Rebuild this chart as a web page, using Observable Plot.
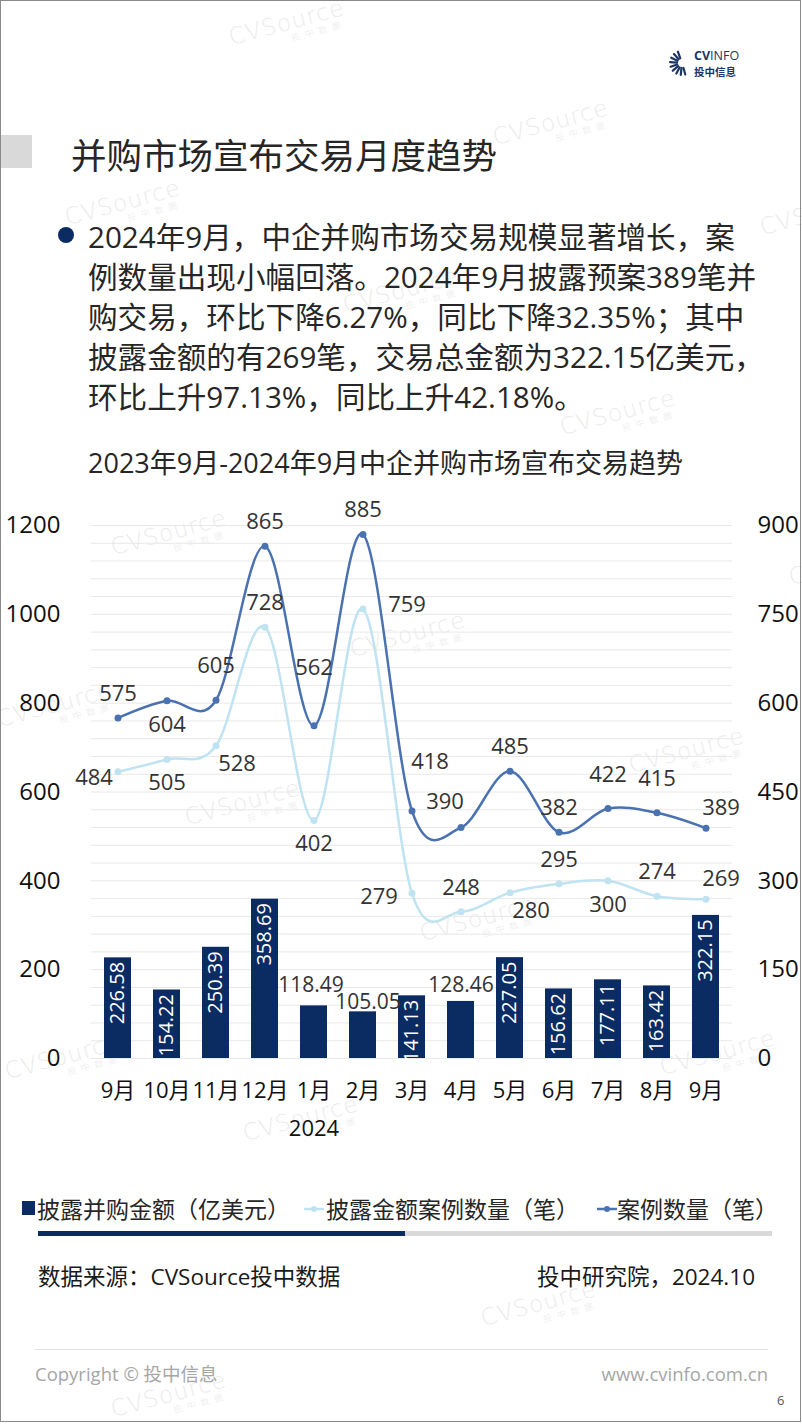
<!DOCTYPE html>
<html><head><meta charset="utf-8">
<script src="https://cdn.jsdelivr.net/npm/d3@7"></script>
<script src="https://cdn.jsdelivr.net/npm/@observablehq/plot@0.6"></script>
<style>
body{margin:0;background:#fff;}
#page{position:relative;width:802px;height:1424px;overflow:hidden;font-family:"Open Sans","Noto Sans CJK SC",sans-serif;color:#262626;background:#fff;}
.abs{position:absolute;white-space:nowrap;}
.wm{position:absolute;color:#ebebeb;transform:rotate(-15deg);transform-origin:left top;font-family:"DejaVu Sans","Open Sans",sans-serif;font-weight:300;font-size:23px;letter-spacing:1px;line-height:24px;z-index:0;white-space:nowrap;}
.wm span{display:block;font-size:9px;line-height:10px;padding-left:60px;letter-spacing:5px;font-family:"Noto Sans CJK SC";}
#frame{position:absolute;left:0;top:0;width:799px;height:1420px;border:1.5px solid #8a8a8a;z-index:10;pointer-events:none;}
.z{z-index:2;}
#chart{position:absolute;left:0;top:490px;z-index:2;}
</style></head>
<body><div id="page">
<div id="frame"></div>
<!-- logo -->
<svg class="abs z" style="left:666px;top:50px" width="28" height="28" viewBox="0 0 28 28" id="logoicon"></svg>
<div class="abs z" style="left:694px;top:49px;font-size:12.5px;line-height:13px;color:#1d3566;font-family:'Open Sans';"><b>CV</b>INFO</div>
<div class="abs z" style="left:694px;top:66px;font-size:10.5px;line-height:11px;color:#1d3566;font-weight:bold;font-family:'Noto Sans CJK SC';">投中信息</div>
<!-- title -->
<div class="abs z" style="left:0;top:135px;width:32px;height:33px;background:#d9d9d9;"></div>
<div class="abs z" style="left:71px;top:131px;font-size:35.5px;line-height:46px;color:#262626;font-family:'Noto Sans CJK SC';">并购市场宣布交易月度趋势</div>
<!-- bullet -->
<div class="abs z" style="left:58px;top:227px;width:16px;height:16px;border-radius:50%;background:#0b2b63;"></div>
<div class="abs z" id="bullet" style="left:88px;top:217px;font-size:29.6px;line-height:40px;color:#262626;"></div>
<!-- chart title -->
<div class="abs z" id="ctitle" style="left:88px;top:447px;font-size:27px;line-height:32px;color:#262626;"></div>
<div id="chart"></div>
<!-- legend -->
<div class="abs z" style="left:22px;top:1201px;width:13px;height:14px;background:#0b2b63;"></div>
<div class="abs z legend" id="lg1" style="left:37px;top:1193px;font-size:23px;line-height:32px;"></div>
<svg class="abs z" style="left:303px;top:1203px" width="22" height="12"><line x1="1" y1="6" x2="21" y2="6" stroke="#bfe3f1" stroke-width="2.5"/><circle cx="11" cy="6" r="3" fill="#bfe3f1"/></svg>
<div class="abs z legend" id="lg2" style="left:326px;top:1193px;font-size:23px;line-height:32px;"></div>
<svg class="abs z" style="left:596px;top:1203px" width="22" height="12"><line x1="1" y1="6" x2="21" y2="6" stroke="#4a72b1" stroke-width="2.5"/><circle cx="11" cy="6" r="3" fill="#4a72b1"/></svg>
<div class="abs z legend" id="lg3" style="left:617px;top:1193px;font-size:23px;line-height:32px;"></div>
<div class="abs z" style="left:38px;top:1231px;width:367px;height:5px;background:#0b2b63;"></div>
<div class="abs z" style="left:405px;top:1231px;width:367px;height:5px;background:#d9d9d9;"></div>
<!-- source -->
<div class="abs z" id="src" style="left:38px;top:1262px;font-size:22.5px;line-height:30px;color:#1a1a1a;"></div>
<div class="abs z" id="org" style="right:47px;top:1262px;font-size:22.5px;line-height:30px;color:#1a1a1a;"></div>
<!-- footer -->
<div class="abs z" style="left:35px;top:1349px;width:733px;height:1px;background:#e2e2e2;"></div>
<div class="abs z" id="copy" style="left:35px;top:1361px;font-size:18.5px;line-height:26px;color:#a6a6a6;"></div>
<div class="abs z" id="web" style="right:34px;top:1361px;font-size:18.5px;line-height:26px;color:#a6a6a6;"></div>
<div class="abs z" style="left:777px;top:1392px;font-size:13px;line-height:16px;color:#555;">6</div>
</div>
<script>
// ---------- data ----------
const periods = ["2023-09","2023-10","2023-11","2023-12","2024-01","2024-02","2024-03","2024-04","2024-05","2024-06","2024-07","2024-08","2024-09"];
const monthLabels = ["9月","10月","11月","12月","1月","2月","3月","4月","5月","6月","7月","8月","9月"];
const amounts = [226.58,154.22,250.39,358.69,118.49,105.05,141.13,128.46,227.05,156.62,177.11,163.42,322.15];
const disclosedCounts = [484,505,528,728,402,759,279,248,280,295,300,274,269];
const caseCounts = [575,604,605,865,562,885,418,390,485,382,422,415,389];
const leftTicks = [0,200,400,600,800,1000,1200];
const rightTicks = [0,150,300,450,600,750,900];
const yearLabel = "2024";
const seriesNames = ["披露并购金额（亿美元）","披露金额案例数量（笔）","案例数量（笔）"];

// ---------- texts ----------
const titleLines = [
  "2024年9月，中企并购市场交易规模显著增长，案",
  "例数量出现小幅回落。2024年9月披露预案389笔并",
  "购交易，环比下降6.27%，同比下降32.35%；其中",
  "披露金额的有269笔，交易总金额为322.15亿美元，",
  "环比上升97.13%，同比上升42.18%。"
];
document.getElementById("bullet").innerHTML = titleLines.join("<br>");
document.getElementById("ctitle").textContent = "2023年9月-2024年9月中企并购市场宣布交易趋势";
document.getElementById("lg1").textContent = seriesNames[0];
document.getElementById("lg2").textContent = seriesNames[1];
document.getElementById("lg3").textContent = seriesNames[2];
document.getElementById("src").textContent = "数据来源：CVSource投中数据";
document.getElementById("org").textContent = "投中研究院，2024.10";
document.getElementById("copy").textContent = "Copyright © 投中信息";
document.getElementById("web").textContent = "www.cvinfo.com.cn";

// logo icon (decorative)
(function(){
  const svg = document.getElementById("logoicon");
  let s = "";
  for (let i = 0; i < 9; i++) {
    const a = (110 + i * 22) * Math.PI / 180;
    const cx = 16, cy = 13;
    const r1 = 5, r2 = 12;
    s += `<line x1="${cx + r1*Math.cos(a)}" y1="${cy - r1*Math.sin(a)}" x2="${cx + r2*Math.cos(a)}" y2="${cy - r2*Math.sin(a)}" stroke="#1d3566" stroke-width="2.2" stroke-linecap="round"/>`;
  }
  svg.innerHTML = s;
})();

// watermarks (decorative)
const wmSpots = [[226,26],[490,126],[62,206],[757,216],[340,294],[557,416],[108,536],[786,566],[-6,708],[347,638],[182,806],[626,754],[417,922],[2,1060],[657,1056],[240,1122],[478,1307],[108,1398]];
const page = document.getElementById("page");
wmSpots.forEach(([l,t]) => {
  const d = document.createElement("div");
  d.className = "wm";
  d.style.left = l + "px"; d.style.top = t + "px";
  d.innerHTML = "CVSource<span>投中数据</span>";
  page.appendChild(d);
});

// ---------- chart ----------
const k = 1200 / 900; // right axis -> left axis units
const rows = periods.map((p, i) => ({
  period: p, month: monthLabels[i], amount: amounts[i],
  disclosed: disclosedCounts[i], cases: caseCounts[i]
}));
const caseLabelPos = ["top","bottom","upper","top","high","top","highright","topleft","top","top","upper","upper","topright"];
const disclosedLabelPos = ["left","bottom","bottomright","top","bottom","right","leftfar","top","bottomright","top","bottom","top","topright"];
const offsets = {top:[0,-24], upper:[0,-34], high:[0,-58], bottom:[0,24], left:[-24,6], leftfar:[-33,4], right:[44,-4], topright:[15,-20], bottomright:[21,18], topleft:[-16,-26], highright:[18,-49]};
// bar label placement: "inside" (rotated, white) or outside-end variants
const barLabelPos = ["inside","inside","inside","inside","outHigh","outNear","inside","outEnd","inside","inside","inside","inside","inside"];
const barOffsets = {outHigh:[-3,-21], outNear:[5,-10], outEnd:[0,-16]};

const darkBlue = "#4a72b1", lightBlue = "#bfe3f1", navy = "#0b2b63";
const labelFont = 22;

function lineLabels(key, posArr) {
  return Object.entries(offsets).map(([name, [dx, dy]]) =>
    Plot.text(rows, {
      filter: (d, i) => posArr[i] === name,
      x: "period", y: d => d[key] * k, text: d => String(d[key]),
      dx, dy, fill: "#333", fontSize: labelFont
    }));
}

const gridTicks = d3.range(0, 1201, 40);
const labelMap = new Map(periods.map((p, i) => [p, monthLabels[i]]));

const chart = Plot.plot({
  width: 802, height: 660,
  marginLeft: 91, marginRight: 70, marginTop: 35, marginBottom: 92,
  style: {fontFamily: "'Open Sans','Noto Sans CJK SC',sans-serif", background: "transparent", overflow: "visible"},
  x: {type: "band", domain: periods, paddingInner: 0.45, paddingOuter: 0.225},
  y: {domain: [0, 1200]},
  marks: [
    Plot.ruleY(gridTicks, {stroke: "#e8e8e8", strokeWidth: 1}),
    Plot.axisY(leftTicks, {anchor: "left", tickSize: 0, tickPadding: 31, fontSize: 24, fill: "#111", label: null, tickFormat: d => String(d)}),
    Plot.axisY(rightTicks.map(t => t * k), {anchor: "right", tickSize: 0, tickPadding: 25, fontSize: 24, fill: "#111", textAnchor: "start", label: null, tickFormat: d => String(Math.round(d / k))}),
    Plot.axisX({tickSize: 0, tickPadding: 24, fontSize: 22, fill: "#111", label: null, tickFormat: d => labelMap.get(d)}),
    Plot.barY(rows, {x: "period", y: "amount", fill: navy}),
    Plot.text([{p: periods[4], y0: 0}], {x: "p", y: "y0", text: () => yearLabel, dy: 70, fontSize: 22, fill: "#111"}),
    Plot.line(rows, {x: "period", y: d => d.disclosed * k, stroke: lightBlue, strokeWidth: 2.5, curve: "cardinal"}),
    Plot.dot(rows, {x: "period", y: d => d.disclosed * k, fill: lightBlue, r: 3.5}),
    Plot.line(rows, {x: "period", y: d => d.cases * k, stroke: darkBlue, strokeWidth: 2.5, curve: "cardinal"}),
    Plot.dot(rows, {x: "period", y: d => d.cases * k, fill: darkBlue, r: 3.5}),
    ...lineLabels("cases", caseLabelPos),
    ...lineLabels("disclosed", disclosedLabelPos),
    Plot.text(rows, {filter: (d, i) => barLabelPos[i] === "inside", x: "period", y: "amount", text: d => d.amount.toFixed(2), rotate: -90, textAnchor: "end", dy: 4, fill: "white", fontSize: 20}),
    ...Object.entries(barOffsets).map(([name, [dx, dy]]) =>
      Plot.text(rows, {filter: (d, i) => barLabelPos[i] === name, x: "period", y: "amount", text: d => d.amount.toFixed(2), dx, dy, fill: "#333", fontSize: 21}))
  ]
});
document.getElementById("chart").appendChild(chart);
</script>
</body></html>
